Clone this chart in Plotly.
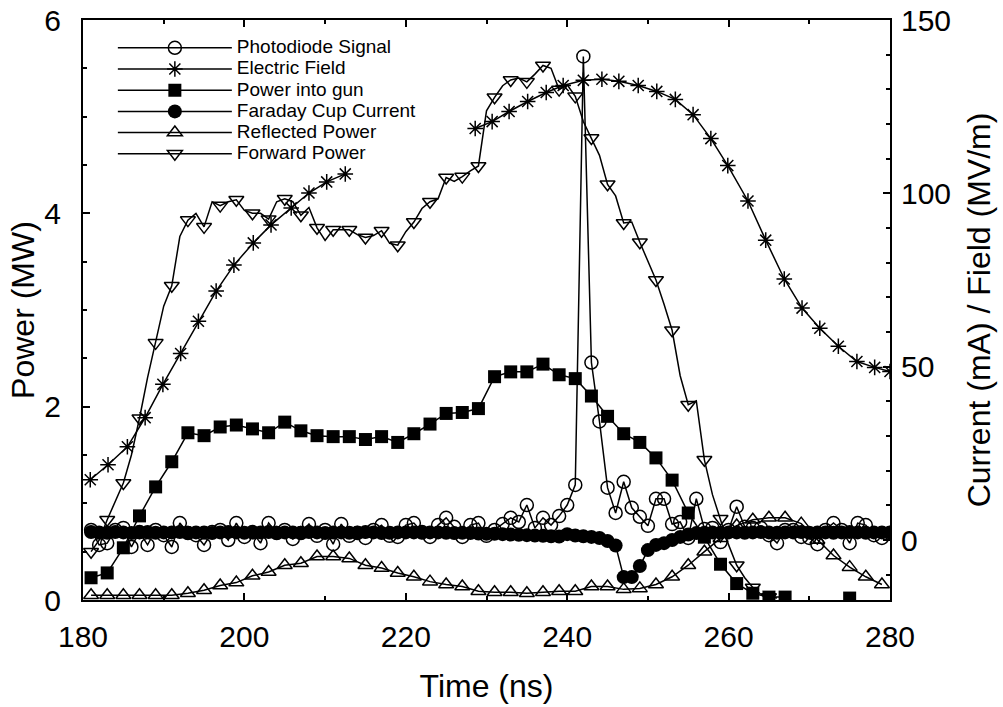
import plotly.graph_objects as go

# ---------------- data ----------------
# Photodiode signal (right axis), 1 ns sampling
pd_t = list(range(181, 281))
pd_v = [2.9, -1.4, -0.9, 2.9, 3.5, -2.0, 2.3, -1.4, 2.9, 1.4,
        -2.0, 4.9, 2.0, 1.4, -1.4, 2.3, 2.9, 0.0, 4.9, 0.9,
        2.3, -0.9, 4.9, 2.0, 2.9, 0.3, 2.0, 4.6, 1.2, 2.9,
        -1.2, 4.6, 1.2, 2.0, 0.6, 2.9, 4.3, 1.2, 0.9, 4.3,
        4.9, 2.3, 0.9, 4.3, 6.4, 3.8, 0.9, 4.3, 4.9, 1.2,
        2.9, 4.6, 6.4, 5.2, 10.1, 3.5, 6.4, 4.3, 6.9, 10.1,
        15.9, 139.5, 51.2, 34.2, 15.1, 7.8, 16.8, 9.3, 6.7, 4.1,
        11.9, 11.9, 4.6, 5.2, 0.6, 11.9, 3.2, 3.5, -0.6, 2.9,
        9.6, 3.8, 3.5, 3.5, 1.4, -0.9, 2.9, 2.9, 0.9, 0.6,
        -1.2, 2.9, 4.9, 2.9, -0.9, 4.9, 4.3, 1.4, 0.6, 2.0]

# Electric field (right axis, MV/m); None marks the gap in the record
ef_t = [180.9, 183.1, 185.5, 187.7, 189.9, 192.1, 194.3, 196.5, 198.7, 201.1,
        203.3, 205.8, 208.0, 210.2, 212.5, 220.0,
        228.6, 230.7, 232.8, 235.1, 237.4, 239.5, 242.0, 244.3, 246.4, 248.8,
        251.1, 253.4, 255.6, 257.8, 259.9, 262.4, 264.6, 266.9, 269.1, 271.3,
        273.6, 275.9, 278.1, 280.0]
ef_v = [17.4, 21.7, 26.9, 35.3, 44.9, 53.8, 63.1, 71.8, 79.3, 85.7,
        90.9, 95.8, 100.1, 103.3, 105.6, None,
        118.7, 120.7, 123.6, 126.5, 129.1, 131.1, 132.6, 132.9, 132.3, 131.1,
        129.4, 127.1, 122.7, 115.8, 108.0, 97.8, 86.5, 75.3, 66.9, 61.1,
        55.9, 51.5, 49.8, 48.6]

# Power into gun (left axis, MW), 2 ns sampling
pg_t = list(range(181, 281, 2))
pg_v = [0.23, 0.28, 0.54, 0.87, 1.17, 1.43, 1.73, 1.70, 1.79, 1.81,
        1.77, 1.73, 1.84, 1.75, 1.70, 1.69, 1.69, 1.66, 1.69, 1.63,
        1.72, 1.82, 1.93, 1.94, 1.98, 2.31, 2.36, 2.36, 2.44, 2.33,
        2.29, 2.11, 1.90, 1.72, 1.63, 1.47, 1.24, 0.90, 0.65, 0.37,
        0.17, 0.07, 0.03, 0.03, -0.10, -0.10, -0.10, 0.02, -0.10, -0.10]

# Faraday cup current (right axis, mA), 1 ns sampling
fc_t = list(range(181, 281))
fc_v = [2.3, 2.2, 2.1, 2.3, 2.2, 2.0, 2.2, 2.3, 2.1, 2.2,
        2.2, 2.3, 2.1, 2.2, 2.2, 2.0, 2.2, 2.3, 2.2, 2.1,
        2.2, 2.2, 2.3, 2.1, 2.2, 2.2, 2.1, 2.3, 2.2, 2.0,
        2.2, 2.2, 2.1, 2.2, 2.3, 2.2, 2.0, 2.1, 2.2, 2.2,
        2.2, 2.1, 2.2, 2.2, 2.1, 2.0, 2.1, 2.0, 1.9, 1.8,
        1.8, 1.7, 1.6, 1.5, 1.4, 1.3, 1.2, 1.1, 1.0, 1.7,
        1.3, 1.1, 0.9, 0.6, -0.3, -1.6, -10.7, -10.7, -7.5, -2.9,
        -1.4, -0.9, 0.0, 0.9, 1.6, 2.0, 2.1, 2.2, 2.1, 2.2,
        2.2, 2.1, 2.2, 2.3, 2.2, 2.1, 2.2, 2.2, 2.3, 2.1,
        2.2, 2.2, 2.1, 2.2, 2.3, 2.2, 2.1, 2.2, 2.2, 2.2]

# Reflected power (left axis, MW), 2 ns sampling
rp_t = list(range(181, 281, 2))
rp_v = [0.05, 0.05, 0.05, 0.05, 0.05, 0.05, 0.07, 0.10, 0.15, 0.18,
        0.25, 0.29, 0.36, 0.38, 0.45, 0.45, 0.43, 0.36, 0.33, 0.28,
        0.24, 0.19, 0.16, 0.14, 0.09, 0.08, 0.08, 0.07, 0.08, 0.09,
        0.09, 0.14, 0.14, 0.11, 0.12, 0.16, 0.24, 0.36, 0.50, 0.64,
        0.77, 0.83, 0.85, 0.85, 0.79, 0.62, 0.46, 0.34, 0.24, 0.16]

# Forward power (left axis, MW), 1 ns sampling, symbols every 2 ns
fp_t = list(range(181, 267))
fp_v = [0.50, 0.62, 0.83, 1.02, 1.21, 1.50, 1.88, 2.30, 2.66, 3.04,
        3.25, 3.76, 3.93, 4.00, 3.86, 4.12, 4.08, 4.12, 4.14, 4.03,
        4.00, 4.00, 3.94, 4.12, 4.15, 4.12, 3.98, 4.06, 3.85, 3.72,
        3.83, 3.83, 3.83, 3.78, 3.75, 3.77, 3.82, 3.69, 3.67, 3.81,
        3.91, 4.05, 4.12, 4.15, 4.37, 4.33, 4.38, 4.44, 4.49, 5.06,
        5.20, 5.32, 5.38, 5.40, 5.36, 5.44, 5.53, 5.50, 5.28, 5.33,
        5.21, 4.95, 4.78, 4.60, 4.30, 4.18, 3.90, 3.91, 3.70, 3.51,
        3.31, 3.06, 2.79, 2.32, 2.02, 2.06, 1.45, 1.09, 0.84, 0.57,
        0.36, 0.23, 0.13, 0.06, 0.03, 0.02]

x_ticks = [180, 200, 220, 240, 260, 280]
left_ticks = [0, 2, 4, 6]
right_ticks = [0, 50, 100, 150]

# ---------------- figure ----------------
FONT = "Arial, Liberation Sans, Helvetica, sans-serif"
MS = 13
LW = 1.5

def leg(name):
    return '<span style="font-size:19px">' + name + '</span>'

fig = go.Figure()
common = dict(mode="lines+markers", line=dict(color="black", width=LW),
              cliponaxis=True)

fig.add_trace(go.Scatter(x=pd_t, y=pd_v, yaxis="y2", name=leg("Photodiode Signal"),
                         marker=dict(symbol="circle-open", size=MS, color="black",
                                     line=dict(width=LW, color="black")), **common))
fig.add_trace(go.Scatter(x=ef_t, y=ef_v, yaxis="y2", name=leg("Electric Field"),
                         connectgaps=False,
                         marker=dict(symbol="asterisk-open", size=MS, color="black",
                                     line=dict(width=LW, color="black")), **common))
fig.add_trace(go.Scatter(x=pg_t, y=pg_v, yaxis="y", name=leg("Power into gun"),
                         marker=dict(symbol="square", size=MS, color="black",
                                     line=dict(width=0)), **common))
fig.add_trace(go.Scatter(x=fc_t, y=fc_v, yaxis="y2", name=leg("Faraday Cup Current"),
                         marker=dict(symbol="circle", size=MS + 1, color="black",
                                     line=dict(width=0)), **common))
fig.add_trace(go.Scatter(x=rp_t, y=rp_v, yaxis="y", name=leg("Reflected Power"),
                         marker=dict(symbol="triangle-up-open", size=MS, color="black",
                                     line=dict(width=LW, color="black")), **common))
# symbols only on every second sample (the others are plain line vertices)
fp_colors = ["black" if i % 2 == 0 else "rgba(0,0,0,0)" for i in range(len(fp_t))]
fig.add_trace(go.Scatter(x=fp_t, y=fp_v, yaxis="y", name=leg("Forward Power"),
                         marker=dict(symbol="triangle-down-open", size=MS,
                                     color=fp_colors, line=dict(width=LW)),
                         **common))

axis_common = dict(showline=True, linecolor="black", linewidth=2, ticks="inside",
                   ticklen=7, tickwidth=1.5, tickcolor="black", showgrid=False,
                   zeroline=False, automargin=False, ticklabeloverflow="allow",
                   tickfont=dict(size=30, color="black", family=FONT),
                   title_font=dict(size=32, color="black", family=FONT))

# plot frame at x 83..890, y 20..600 in the window (page margin removed below)
fig.update_layout(
    width=1003, height=707,
    margin=dict(l=83, r=113, t=20, b=107),
    plot_bgcolor="white", paper_bgcolor="white",
    font=dict(family=FONT, color="black"),
    xaxis=dict(range=[180, 280], tickvals=x_ticks, mirror="ticks",
               ticklabelstandoff=9,
               minor=dict(dtick=10, tick0=180, ticks="inside", ticklen=4,
                          tickcolor="black", tickwidth=1.5),
               title=dict(text="Time (ns)", standoff=23), **axis_common),
    yaxis=dict(range=[0, 6], tickvals=left_ticks, ticklabelstandoff=14,
               minor=dict(dtick=0.5, tick0=0, ticks="inside", ticklen=4,
                          tickcolor="black", tickwidth=1.5),
               title=dict(text="Power (MW)", standoff=0), **axis_common),
    yaxis2=dict(range=[-17.3, 150], tickvals=right_ticks, overlaying="y", side="right",
                ticklabelstandoff=3,
                minor=dict(dtick=10, tick0=0, ticks="inside", ticklen=4,
                           tickcolor="black", tickwidth=1.5),
                title=dict(text="Current (mA) / Field (MV/m)", standoff=18), **axis_common),
    legend=dict(x=0.037, y=0.979, xanchor="left", yanchor="top",
                font=dict(size=14, color="black", family=FONT),
                itemwidth=114, tracegroupgap=0,
                bgcolor="rgba(0,0,0,0)", borderwidth=0),
    showlegend=True,
)

fig.write_html("out.html", config={"displayModeBar": False},
               post_script="document.body.style.margin='0px';")
